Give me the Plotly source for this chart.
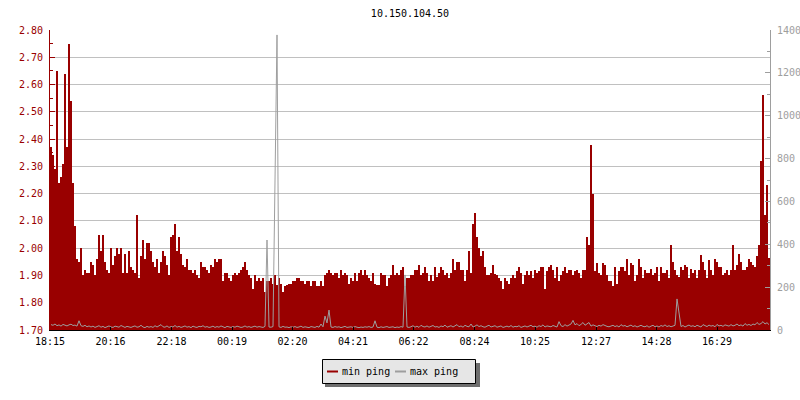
import plotly.graph_objects as go

# ---------------- data ----------------
title_text = "10.150.104.50"
start_time = "18:15"
step_minutes = 4

tick_labels = ["18:15", "20:16", "22:18", "00:19", "02:20", "04:21",
               "06:22", "08:24", "10:25", "12:27", "14:28", "16:29"]

legend_names = ["min ping", "max ping"]

min_ping = [
    2.37, 2.34, 2.29, 2.65, 2.24, 2.26, 2.31, 2.64, 2.37, 2.75, 2.54, 2.24, 2.08, 1.96, 1.95, 2.00, 1.90, 1.92, 1.91, 1.91,
    1.95, 1.94, 1.90, 1.96, 2.05, 1.99, 2.05, 1.95, 1.92, 1.91, 2.00, 1.94, 1.97, 2.00, 1.98, 2.00, 1.91, 1.98, 1.91, 1.99,
    1.93, 1.92, 1.91, 2.12, 1.89, 1.97, 2.03, 1.96, 2.02, 2.02, 1.99, 1.95, 1.93, 1.96, 1.91, 1.95, 1.99, 1.97, 1.94, 1.90,
    2.04, 2.05, 2.09, 1.99, 2.04, 1.98, 1.94, 1.93, 1.96, 1.92, 1.92, 1.91, 1.92, 1.90, 1.89, 1.95, 1.93, 1.93, 1.92, 1.91,
    1.94, 1.93, 1.96, 1.95, 1.96, 1.96, 1.88, 1.91, 1.91, 1.89, 1.88, 1.90, 1.91, 1.90, 1.91, 1.92, 1.93, 1.95, 1.92, 1.90,
    1.89, 1.85, 1.90, 1.88, 1.89, 1.88, 1.89, 1.84, 1.88, 1.88, 1.89, 1.87, 1.90, 1.865, 1.89, 1.87, 1.84, 1.86, 1.865, 1.87,
    1.87, 1.88, 1.88, 1.89, 1.89, 1.88, 1.88, 1.87, 1.88, 1.88, 1.86, 1.88, 1.88, 1.86, 1.86, 1.88, 1.86, 1.90, 1.91, 1.92,
    1.91, 1.90, 1.91, 1.91, 1.89, 1.92, 1.90, 1.91, 1.90, 1.87, 1.89, 1.88, 1.91, 1.88, 1.91, 1.92, 1.90, 1.92, 1.90, 1.89,
    1.88, 1.91, 1.87, 1.865, 1.865, 1.91, 1.90, 1.90, 1.86, 1.89, 1.90, 1.94, 1.90, 1.91, 1.90, 1.92, 1.93, 1.86, 1.89, 1.89,
    1.90, 1.90, 1.92, 1.92, 1.94, 1.90, 1.91, 1.93, 1.91, 1.88, 1.90, 1.88, 1.93, 1.895, 1.91, 1.93, 1.92, 1.90, 1.91, 1.89,
    1.91, 1.96, 1.92, 1.95, 1.95, 1.92, 1.92, 1.88, 1.92, 1.99, 1.91, 2.09, 2.13, 2.04, 2.00, 1.97, 1.99, 1.93, 1.90, 1.90,
    1.91, 1.94, 1.905, 1.90, 1.89, 1.88, 1.85, 1.89, 1.88, 1.87, 1.89, 1.90, 1.89, 1.915, 1.93, 1.91, 1.87, 1.90, 1.915, 1.90,
    1.915, 1.89, 1.92, 1.91, 1.915, 1.93, 1.93, 1.85, 1.915, 1.93, 1.94, 1.92, 1.89, 1.93, 1.88, 1.90, 1.915, 1.93, 1.91, 1.92,
    1.92, 1.90, 1.915, 1.92, 1.91, 1.89, 1.92, 1.92, 2.04, 2.01, 2.38, 2.20, 1.915, 1.945, 1.91, 1.90, 1.945, 1.94, 1.90, 1.88,
    1.88, 1.86, 1.93, 1.87, 1.915, 1.93, 1.93, 1.915, 1.96, 1.90, 1.945, 1.94, 1.88, 1.90, 1.96, 1.93, 1.89, 1.92, 1.91, 1.91,
    1.925, 1.90, 1.91, 1.93, 1.88, 1.93, 1.91, 1.91, 1.92, 1.89, 2.01, 1.95, 1.92, 1.90, 1.895, 1.93, 1.92, 1.94, 1.93, 1.89,
    1.925, 1.91, 1.92, 1.89, 1.92, 1.975, 1.95, 1.92, 1.89, 1.955, 1.92, 1.90, 1.96, 1.95, 1.93, 1.93, 1.90, 1.91, 1.92, 1.90,
    1.92, 2.01, 1.92, 1.94, 1.98, 1.95, 1.92, 1.92, 1.93, 1.96, 1.95, 1.94, 1.93, 1.97, 2.01, 2.32, 2.56, 2.12, 2.23, 1.965,
]

max_ping = [
    25, 22, 28, 20, 24, 18, 26, 22, 19, 24, 27, 21, 23, 18, 43, 20, 17, 22, 15, 19,
    14, 18, 12, 16, 20, 13, 17, 11, 15, 19, 14, 12, 18, 16, 13, 21, 15, 12, 17, 14,
    12, 16, 19, 13, 15, 22, 14, 11, 17, 13, 16, 12, 20, 14, 18, 25, 15, 13, 19, 12,
    16, 14, 21, 13, 17, 12, 15, 19, 13, 16, 11, 18, 14, 12, 17, 15, 20, 13, 16, 12,
    14, 18, 12, 16, 13, 19, 15, 11, 17, 14, 12, 16, 13, 18, 15, 12, 14, 19, 13, 16,
    12, 15, 18, 13, 16, 14, 12, 17, 420, 14, 13, 16, 692, 1377, 15, 12, 17, 13, 14, 11,
    15, 13, 16, 12, 14, 18, 12, 15, 13, 11, 16, 14, 12, 17, 13, 28, 15, 65, 33, 93,
    14, 12, 16, 13, 15, 11, 14, 17, 12, 13, 15, 12, 16, 13, 11, 14, 12, 15, 13, 16,
    12, 14, 43, 13, 11, 15, 12, 14, 16, 12, 13, 15, 11, 14, 12, 16, 13, 257, 14, 12,
    15, 20, 13, 18, 12, 22, 16, 14, 19, 13, 17, 21, 14, 16, 12, 19, 15, 23, 13, 17,
    20, 14, 18, 25, 15, 19, 13, 22, 17, 15, 28, 14, 18, 24, 16, 20, 15, 13, 18, 22,
    14, 17, 20, 13, 16, 19, 12, 15, 18, 14, 21, 13, 17, 15, 20, 12, 16, 19, 14, 17,
    22, 15, 18, 13, 20, 16, 24, 14, 19, 17, 15, 21, 18, 14, 39, 20, 16, 25, 18, 22,
    28, 45, 24, 30, 20, 26, 35, 22, 28, 35, 18, 24, 20, 16, 22, 18, 25, 20, 17, 15,
    19, 22, 16, 20, 14, 25, 18, 21, 15, 19, 23, 16, 20, 14, 18, 22, 17, 15, 20, 13,
    18, 22, 15, 19, 14, 21, 17, 24, 16, 20, 15, 18, 22, 145, 79, 16, 21, 14, 19, 23,
    17, 20, 15, 22, 18, 14, 25, 19, 16, 23, 18, 21, 15, 26, 19, 22, 17, 24, 20, 18,
    25, 19, 22, 28, 20, 24, 18, 30, 22, 26, 21, 28, 24, 35, 26, 30, 39, 28, 34, 25,
]

# ---------------- derived ----------------
def minutes_after_start(label):
    h, m = map(int, label.split(":"))
    sh, sm = map(int, start_time.split(":"))
    return ((h * 60 + m) - (sh * 60 + sm)) % 1440

tick_vals = [minutes_after_start(t) for t in tick_labels]
x_min = [i * step_minutes for i in range(len(min_ping))]
# max ping drawn through the middle of each sample interval
x_max = [i * step_minutes + step_minutes / 2 for i in range(len(max_ping))]
x_end = len(min_ping) * step_minutes

RED = "#990000"
GREY = "#9e9e9e"
FONT = "DejaVu Sans Mono"

W, H = 800, 400
ML, MR, MT, MB = 50, 30, 30, 70
PW, PH = W - ML - MR, H - MT - MB


def px(xp):
    return (xp - ML) / PW


def py(yp):
    return (H - MB - yp) / PH


fig = go.Figure()
fig.add_trace(go.Bar(
    x=x_min, y=min_ping, width=step_minutes, offset=0,
    marker=dict(color=RED, line=dict(width=0)),
    name=legend_names[0], showlegend=False, hoverinfo="skip",
))
fig.add_trace(go.Scatter(
    x=x_max, y=max_ping, yaxis="y2", mode="lines",
    line=dict(color=GREY, width=1, shape="linear"),
    name=legend_names[1], showlegend=False, hoverinfo="skip",
))

shapes = []
annotations = []
# legend: shadow, box, swatches, labels
shapes.append(dict(type="rect", xref="paper", yref="paper",
                   x0=px(325), x1=px(480), y0=py(387), y1=py(363),
                   fillcolor="#6e6e6e", line=dict(width=0), layer="above"))
shapes.append(dict(type="rect", xref="paper", yref="paper",
                   x0=px(322.5), x1=px(475.5), y0=py(383.5), y1=py(359.5),
                   fillcolor="#e6e6e6", line=dict(color="black", width=1), layer="above"))
for name, color, x0 in [(legend_names[0], RED, 327), (legend_names[1], GREY, 395)]:
    shapes.append(dict(type="line", xref="paper", yref="paper",
                       x0=px(x0), x1=px(x0 + 11), y0=py(371.5), y1=py(371.5),
                       line=dict(color=color, width=2), layer="above"))
    annotations.append(dict(xref="paper", yref="paper", x=px(x0 + 13), y=py(371.5),
                            text=name, showarrow=False, xanchor="left", yanchor="middle",
                            font=dict(family=FONT, size=10, color="black")))

fig.update_layout(
    width=W, height=H,
    margin=dict(l=ML, r=MR, t=MT, b=MB, pad=0, autoexpand=False),
    paper_bgcolor="white", plot_bgcolor="white",
    bargap=0,
    showlegend=False,
    font=dict(family=FONT, size=10, color="black"),
    title=dict(text=title_text, x=px(410), xref="paper", xanchor="center",
               y=1 - 13.5 / H, yanchor="middle",
               font=dict(family=FONT, size=10, color="black")),
    xaxis=dict(range=[0, x_end], tickmode="array", tickvals=tick_vals, ticktext=tick_labels,
               automargin=False, ticklabelstandoff=2,
               showgrid=False, zeroline=False, showline=True, linecolor="black", linewidth=1,
               ticks="inside", ticklen=3, tickcolor="black",
               tickfont=dict(family=FONT, size=10, color="black")),
    yaxis=dict(range=[1.70, 2.80], dtick=0.1, tick0=1.70, tickformat=".2f",
               automargin=False, ticklabelstandoff=4,
               showgrid=True, gridcolor="#c0c0c0", gridwidth=1, zeroline=False,
               showline=True, linecolor=RED, linewidth=1,
               ticks="inside", ticklen=5, tickcolor=RED,
               minor=dict(ticks="inside", ticklen=3, tickcolor=RED, dtick=0.05, showgrid=False),
               tickfont=dict(family=FONT, size=10, color=RED)),
    yaxis2=dict(range=[0, 1400], dtick=200, tick0=0, overlaying="y", side="right",
                automargin=False, ticklabelstandoff=4,
                showgrid=False, zeroline=False, showline=True, linecolor=GREY, linewidth=1,
                ticks="inside", ticklen=5, tickcolor=GREY,
                minor=dict(ticks="inside", ticklen=3, tickcolor=GREY, dtick=100, showgrid=False),
                tickfont=dict(family=FONT, size=10, color=GREY)),
    shapes=shapes,
    annotations=annotations,
)

fig.write_html("out.html", config={"displayModeBar": False},
               post_script="document.body.style.margin='0px';document.body.style.overflow='hidden';")
